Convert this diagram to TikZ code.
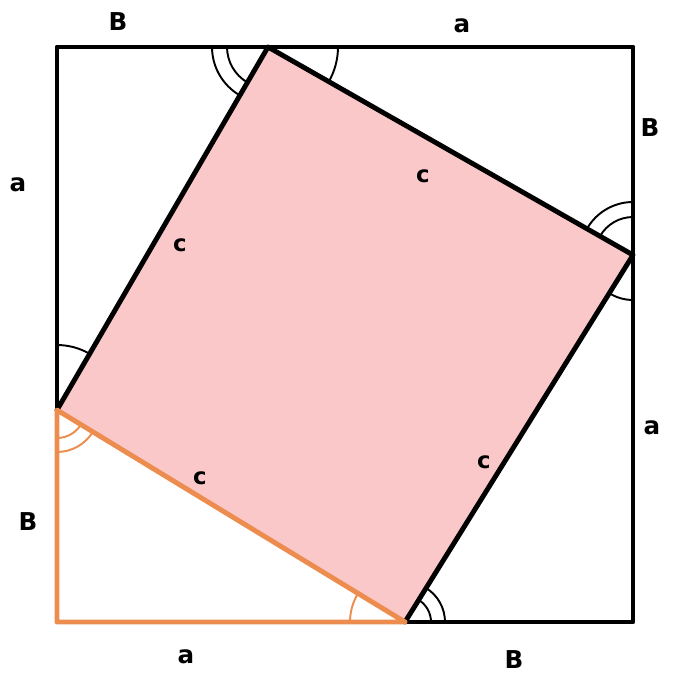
\documentclass[tikz,border=0pt]{standalone}
\usepackage{fontspec}
\setmainfont{DejaVu Sans}
\usepackage{xcolor}
\usepackage{tikz}
\usetikzlibrary{angles, calc}
\definecolor{squarepink}{RGB}{250, 200, 200}
\definecolor{legorange}{RGB}{236, 140, 78}
\tikzset{
    edge/.style={
        line width=2.8pt,
        line cap=round,
        line join=round
    },
    lbl/.style={
        font=\bfseries\fontsize{14}{14}\selectfont,
        inner sep=0pt
    },
    clbl/.style={
        lbl,
        font=\bfseries\fontsize{13}{13}\selectfont
    }
}

\begin{document}
\begin{tikzpicture}[x=0.02cm, y=0.02cm,
        arc/.style={draw=#1, line width=1.1pt}
    ]
        \useasboundingbox (0,0) rectangle (682,673);
        % outer square and the four points where the tilted square touches it
        \coordinate (tl) at (57,626);
        \coordinate (tr) at (633,626);
        \coordinate (br) at (633,51);
        \coordinate (bl) at (57,51);
        \coordinate (p1) at (268,626);
        \coordinate (p2) at (633,418);
        \coordinate (p3) at (405,51);
        \coordinate (p4) at (57,263);

        \fill[squarepink] (p1) -- (p2) -- (p3) -- (p4) -- cycle;

        % angle marks
        \pic[arc=black, angle radius=1.12cm] {angle = tl--p1--p4};
        \pic[arc=black, angle radius=0.82cm] {angle = tl--p1--p4};
        \pic[arc=black, angle radius=1.4cm] {angle = p2--p1--tr};
        \pic[arc=black, angle radius=1.06cm] {angle = tr--p2--p1};
        \pic[arc=black, angle radius=0.76cm] {angle = tr--p2--p1};
        \pic[arc=black, angle radius=0.9cm] {angle = p3--p2--br};
        \pic[arc=black, angle radius=0.8cm] {angle = br--p3--p2};
        \pic[arc=black, angle radius=0.52cm] {angle = br--p3--p2};
        \pic[arc=black, angle radius=1.3cm] {angle = p1--p4--tl};
        \pic[arc=legorange, angle radius=0.84cm] {angle = bl--p4--p3};
        \pic[arc=legorange, angle radius=0.56cm] {angle = bl--p4--p3};
        \pic[arc=legorange, angle radius=1.1cm] {angle = p4--p3--bl};

        % sides
        \draw[edge] (p4) -- (tl) -- (tr) -- (br) -- (p3);
        \draw[edge] (p4) -- (p1) -- (p2) -- (p3);
        \draw[edge, legorange] (p3) -- (bl) -- (p4) -- (p3);

        % labels
        \node[lbl]  (btop)   at (118,651) {B};
        \node[lbl]  (atop)   at (462,647) {a};
        \node[lbl]  (bright) at (650,545) {B};
        \node[lbl]  (aleft)  at (18,488)  {a};
        \node[clbl] (cleft)  at (180,428) {c};
        \node[clbl] (ctop)   at (423,497) {c};
        \node[lbl]  (aright) at (652,245) {a};
        \node[clbl] (cright) at (484,211) {c};
        \node[clbl] (cbot)   at (200,195) {c};
        \node[lbl]  (bleft)  at (28,151)  {B};
        \node[lbl]  (abot)   at (186,16)  {a};
        \node[lbl]  (bbot)   at (514,13)  {B};
    \end{tikzpicture}
\end{document}
